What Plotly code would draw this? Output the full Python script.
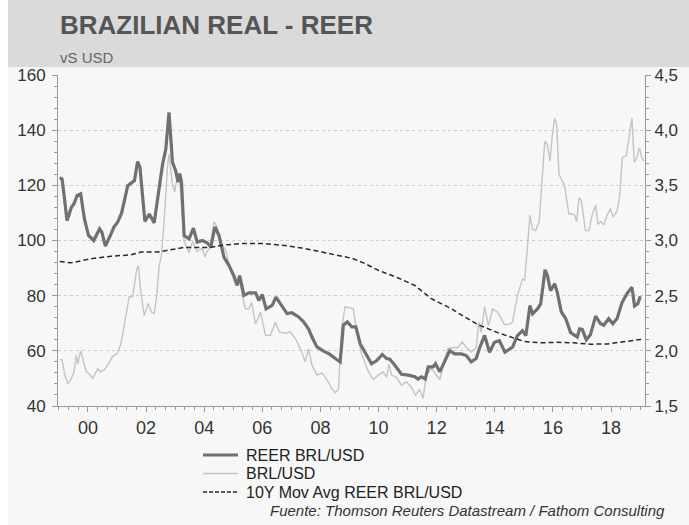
import plotly.graph_objects as go

# REER BRL/USD (left axis)
reer_t = [1999.03, 1999.11, 1999.18, 1999.28, 1999.43, 1999.52, 1999.63, 1999.75, 1999.88,
          2000.02, 2000.2, 2000.4, 2000.48, 2000.6, 2000.77, 2000.89, 2001.02, 2001.16,
          2001.37, 2001.6, 2001.71, 2001.79, 2001.96, 2002.11, 2002.28, 2002.45, 2002.57,
          2002.68, 2002.79, 2002.91, 2003.02, 2003.1, 2003.16, 2003.22, 2003.31, 2003.48,
          2003.63, 2003.76, 2003.94, 2004.1, 2004.23, 2004.37, 2004.51, 2004.68, 2004.85,
          2005.02, 2005.14, 2005.22, 2005.37, 2005.54, 2005.77, 2005.88, 2006.0, 2006.13,
          2006.34, 2006.47, 2006.68, 2006.85, 2007.02, 2007.25, 2007.42, 2007.59, 2007.71,
          2007.88, 2008.11, 2008.33, 2008.51, 2008.68, 2008.79, 2008.93, 2009.08, 2009.22,
          2009.37, 2009.54, 2009.76, 2009.94, 2010.13, 2010.28, 2010.39, 2010.56, 2010.79,
          2011.02, 2011.25, 2011.36, 2011.48, 2011.61, 2011.71, 2011.88, 2011.96, 2012.11,
          2012.28, 2012.45, 2012.62, 2012.85, 2013.02, 2013.19, 2013.36, 2013.47, 2013.65,
          2013.82, 2013.99, 2014.16, 2014.35, 2014.5, 2014.61, 2014.78, 2014.95, 2015.07,
          2015.21, 2015.3, 2015.47, 2015.58, 2015.73, 2015.81, 2015.92, 2016.06, 2016.15,
          2016.29, 2016.44, 2016.61, 2016.75, 2016.84, 2016.92, 2017.01, 2017.15, 2017.29,
          2017.47, 2017.64, 2017.75, 2017.92, 2018.06, 2018.21, 2018.38, 2018.55, 2018.72,
          2018.81, 2018.92, 2019.01]
reer = [122.8, 122.3, 116.3, 107.2, 112, 113.3, 116.3, 116.9, 107.8,
        101.8, 100, 104.2, 103, 98, 101.8, 104.8, 106.6, 110,
        119.9, 121.7, 128.6, 126.5, 106.9, 109.6, 106.4, 118.7, 127.7,
        133.1, 146.4, 128.3, 125.3, 121.1, 124.3, 121.1, 101.8, 100.6,
        104.5, 99.4, 100, 99.2, 97.7, 104.9, 101.8, 94, 91,
        87.3, 83.7, 87.3, 80.1, 81, 81, 78.3, 80.4, 75.2,
        76.5, 79.5, 75.9, 73.5, 73.8, 72.3, 70.5, 68, 65,
        61.4, 59.9, 58.7, 57.2, 56, 69.3, 70.5, 68.7, 68.7,
        62.5, 59.5, 55.3, 56.5, 58.7, 57.2, 57, 54.8, 51.5,
        51.2, 50.6, 49.8, 50.6, 49.8, 54.2, 54.2, 55.3, 52.4,
        56.5, 60.1, 58.9, 58.9, 58.3, 56, 57.2, 60.8, 65.6,
        59.5, 63.1, 63.7, 59.5, 60.7, 61.3, 65.5, 67.3, 65.5,
        76.4, 73.4, 75.2, 77, 89.4, 87.3, 81.8, 84.3, 81.3,
        74.1, 71.7, 66.6, 65.6, 65, 68, 67.8, 64, 65.8,
        72.6, 69.8, 69.3, 71.7, 69.8, 71.7, 77.5, 80.7, 83.1,
        76.3, 77.1, 79.8]

# BRL/USD (right axis)
brl_t = [1999.03, 1999.11, 1999.2, 1999.31, 1999.43, 1999.52, 1999.6, 1999.65, 1999.75,
         1999.83, 1999.94, 2000.05, 2000.17, 2000.34, 2000.43, 2000.57, 2000.68, 2000.85,
         2001.02, 2001.14, 2001.25, 2001.37, 2001.42, 2001.54, 2001.68, 2001.74, 2001.82,
         2001.94, 2002.07, 2002.19, 2002.28, 2002.37, 2002.45, 2002.53, 2002.62, 2002.74,
         2002.79, 2002.91, 2002.99, 2003.08, 2003.17, 2003.31, 2003.48, 2003.6, 2003.76,
         2003.94, 2004.02, 2004.1, 2004.19, 2004.34, 2004.45, 2004.62, 2004.76, 2004.91,
         2005.08, 2005.2, 2005.31, 2005.42, 2005.54, 2005.63, 2005.77, 2005.94, 2006.11,
         2006.28, 2006.45, 2006.59, 2006.79, 2006.96, 2007.14, 2007.31, 2007.48, 2007.59,
         2007.71, 2007.88, 2008.05, 2008.22, 2008.39, 2008.51, 2008.62, 2008.73, 2008.85,
         2009.13, 2009.25, 2009.42, 2009.65, 2009.82, 2009.99, 2010.16, 2010.28, 2010.36,
         2010.45, 2010.62, 2010.79, 2010.96, 2011.13, 2011.27, 2011.42, 2011.53, 2011.65,
         2011.82, 2011.99, 2012.11, 2012.28, 2012.39, 2012.56, 2012.73, 2012.88, 2013.02,
         2013.19, 2013.36, 2013.45, 2013.53, 2013.65, 2013.78, 2013.93, 2014.1, 2014.33,
         2014.5, 2014.61, 2014.78, 2014.95, 2015.03, 2015.13, 2015.21, 2015.3, 2015.41,
         2015.53, 2015.64, 2015.72, 2015.81, 2015.9, 2015.98, 2016.06, 2016.13, 2016.21,
         2016.32, 2016.4, 2016.55, 2016.67, 2016.75, 2016.82, 2016.9, 2016.98, 2017.12,
         2017.24, 2017.35, 2017.47, 2017.55, 2017.66, 2017.75, 2017.87, 2017.98, 2018.07,
         2018.21, 2018.3, 2018.39, 2018.53, 2018.61, 2018.72, 2018.8, 2018.89, 2018.98,
         2019.06, 2019.14]
brl = [1.92, 1.92, 1.78, 1.70, 1.75, 1.81, 1.96, 1.88, 2.0,
       1.93, 1.81, 1.79, 1.75, 1.84, 1.81, 1.83, 1.87, 1.95,
       1.98, 2.07, 2.23, 2.38, 2.49, 2.49, 2.74, 2.77, 2.53,
       2.32, 2.43, 2.35, 2.34, 2.50, 2.77, 2.86, 3.17, 3.68,
       3.78, 3.5, 3.44, 3.60, 3.51, 2.99, 2.89, 2.99, 2.90,
       2.93, 2.85, 2.90, 2.93, 3.17, 3.12, 2.96, 2.90, 2.72,
       2.60, 2.67, 2.50, 2.38, 2.38, 2.44, 2.24, 2.35, 2.14,
       2.14, 2.26, 2.17, 2.16, 2.17, 2.11, 2.02, 1.90, 2.02,
       1.87, 1.78, 1.80, 1.74, 1.66, 1.62, 1.65, 2.20, 2.40,
       2.38, 2.17, 1.97, 1.81, 1.74, 1.78, 1.81, 1.76, 1.88,
       1.78, 1.76, 1.69, 1.72, 1.67, 1.60, 1.65, 1.57, 1.78,
       1.84, 1.78, 1.74, 1.93, 2.02, 2.03, 2.03, 2.08, 2.03,
       1.99, 2.03, 2.26, 2.17, 2.40, 2.23, 2.38, 2.35, 2.24,
       2.24, 2.26, 2.50, 2.65, 2.64, 2.96, 3.23, 3.10, 3.09,
       3.17, 3.59, 3.90, 3.87, 3.72, 3.95, 4.11, 4.05, 3.60,
       3.54, 3.50, 3.24, 3.24, 3.23, 3.17, 3.39, 3.36, 3.09,
       3.09, 3.23, 3.32, 3.15, 3.17, 3.14, 3.23, 3.29, 3.21,
       3.27, 3.41, 3.75, 3.77, 3.92, 4.11, 3.71, 3.75, 3.84,
       3.75, 3.72]

# 10Y moving average of REER (left axis)
ma_t = [1999.03, 1999.43, 2000.11, 2000.8, 2001.48, 2001.82, 2002.39, 2002.85, 2003.31,
        2004.22, 2004.62, 2005.31, 2006.0, 2006.68, 2007.36, 2008.05, 2008.73, 2009.1,
        2009.5, 2009.99, 2010.68, 2011.25, 2011.82, 2012.5, 2012.96, 2013.42, 2014.1,
        2014.44, 2015.01, 2015.58, 2016.15, 2016.72, 2017.29, 2017.87, 2018.44, 2019.01,
        2019.14]
ma = [92.4, 91.9, 93.4, 94.3, 94.8, 95.8, 95.8, 96.7, 97.5,
      97.5, 98.3, 98.9, 98.9, 98.3, 97.3, 95.8, 94.3, 93.5,
      91.8, 89.2, 86.4, 83.7, 78.9, 75.3, 72.3, 69.5, 66.6,
      65.3, 63.4, 62.9, 63.1, 62.9, 62.4, 62.5, 63.4, 64.1,
      64.1]

year_ticks = [2000, 2002, 2004, 2006, 2008, 2010, 2012, 2014, 2016, 2018]
year_labels = ["00", "02", "04", "06", "08", "10", "12", "14", "16", "18"]
left_ticks = [40, 60, 80, 100, 120, 140, 160]
right_ticks = [1.5, 2.0, 2.5, 3.0, 3.5, 4.0, 4.5]
right_labels = ["1,5", "2,0", "2,5", "3,0", "3,5", "4,0", "4,5"]

FONT = "Liberation Sans, Arial, sans-serif"
AXIS = "#9a9a9a"
W, H = 689, 525
L, R, T, B = 58, 44, 75, 119
PW, PH = W - L - R, H - T - B


def px(x):
    return (x - L) / PW


def py(y):
    return (H - B - y) / PH


series = [
    dict(name="REER BRL/USD", color="#707070", width=3.2, dash="solid"),
    dict(name="BRL/USD", color="#c4c4c4", width=1.4, dash="solid"),
    dict(name="10Y Mov Avg REER BRL/USD", color="#2a2a2a", width=1.5, dash="4px,2px"),
]

fig = go.Figure()

fig.add_trace(go.Scatter(x=brl_t, y=brl, name=series[1]["name"], mode="lines",
                         line=dict(color=series[1]["color"], width=series[1]["width"]),
                         yaxis="y"))
fig.add_trace(go.Scatter(x=reer_t, y=reer, name=series[0]["name"], mode="lines",
                         line=dict(color=series[0]["color"], width=series[0]["width"]),
                         yaxis="y2"))
fig.add_trace(go.Scatter(x=ma_t, y=ma, name=series[2]["name"], mode="lines",
                         line=dict(color=series[2]["color"], width=series[2]["width"],
                                   dash="5px,3px"),
                         yaxis="y2"))

# white strip on the left edge and grey header band
fig.add_shape(type="rect", xref="paper", yref="paper",
              x0=px(-5), x1=px(8), y0=py(530), y1=py(-10),
              fillcolor="#ffffff", line=dict(width=0), layer="below")
fig.add_shape(type="rect", xref="paper", yref="paper",
              x0=px(8), x1=px(700), y0=py(67), y1=py(-10),
              fillcolor="#dadada", line=dict(width=0), layer="below")

fig.add_annotation(text="<b>BRAZILIAN REAL - REER</b>", xref="paper", yref="paper",
                   x=px(58), y=py(25), xanchor="left", yanchor="middle", showarrow=False,
                   font=dict(family=FONT, size=26, color="#555555"))
fig.add_annotation(text="vS USD", xref="paper", yref="paper",
                   x=px(58), y=py(57), xanchor="left", yanchor="middle", showarrow=False,
                   font=dict(family=FONT, size=15, color="#666666"))

# legend below the plot
for i, s in enumerate(series):
    yy = py(455 + i * 18.5)
    fig.add_shape(type="line", xref="paper", yref="paper",
                  x0=px(203), x1=px(238), y0=yy, y1=yy,
                  line=dict(color=s["color"], width=s["width"], dash=s["dash"]))
    fig.add_annotation(text=s["name"], xref="paper", yref="paper",
                       x=px(244), y=yy, xanchor="left", yanchor="middle",
                       showarrow=False, font=dict(family=FONT, size=16, color="#222222"))

fig.add_annotation(text="<i>Fuente: Thomson Reuters Datastream / Fathom Consulting</i>",
                   xref="paper", yref="paper", x=px(667), y=py(510.5),
                   xanchor="right", yanchor="middle", showarrow=False,
                   font=dict(family=FONT, size=15, color="#333333"))

fig.update_layout(
    width=W, height=H,
    margin=dict(l=L, r=R, t=T, b=B),
    paper_bgcolor="#f7f7f7",
    plot_bgcolor="#f7f7f7",
    font=dict(family=FONT, size=17, color="#333333"),
    showlegend=False,
    xaxis=dict(range=[1998.97, 2019.17], tickmode="array", tickvals=year_ticks,
               ticktext=year_labels, showgrid=False, zeroline=False, automargin=False,
               showline=True, linecolor=AXIS, ticks="outside", ticklen=5,
               tickcolor=AXIS, tickfont=dict(size=18),
               minor=dict(dtick=1 / 3, tick0=2000, ticks="outside", ticklen=3,
                          tickcolor=AXIS)),
    yaxis=dict(range=[1.5, 4.5], side="right", tickmode="array", tickvals=right_ticks,
               ticktext=right_labels, showgrid=False, zeroline=False, automargin=False,
               showline=True, linecolor=AXIS, ticks="outside", ticklen=5,
               tickcolor=AXIS,
               minor=dict(dtick=0.1, tick0=1.5, ticks="outside", ticklen=3,
                          tickcolor=AXIS)),
    yaxis2=dict(range=[40, 160], side="left", overlaying="y", tickmode="array",
                tickvals=left_ticks, showgrid=True, gridcolor="#cccccc",
                griddash="dot", gridwidth=1, zeroline=False, automargin=False,
                showline=True, linecolor=AXIS, ticks="outside", ticklen=5,
                tickcolor=AXIS, ticklabelstandoff=3,
                minor=dict(dtick=4, tick0=40, ticks="outside", ticklen=3,
                           tickcolor=AXIS)),
)

# the page is photographed from its top-left corner, so drop the body margin
fig.write_html("out.html", config={"displayModeBar": False},
               post_script="document.body.style.margin='0px';")
